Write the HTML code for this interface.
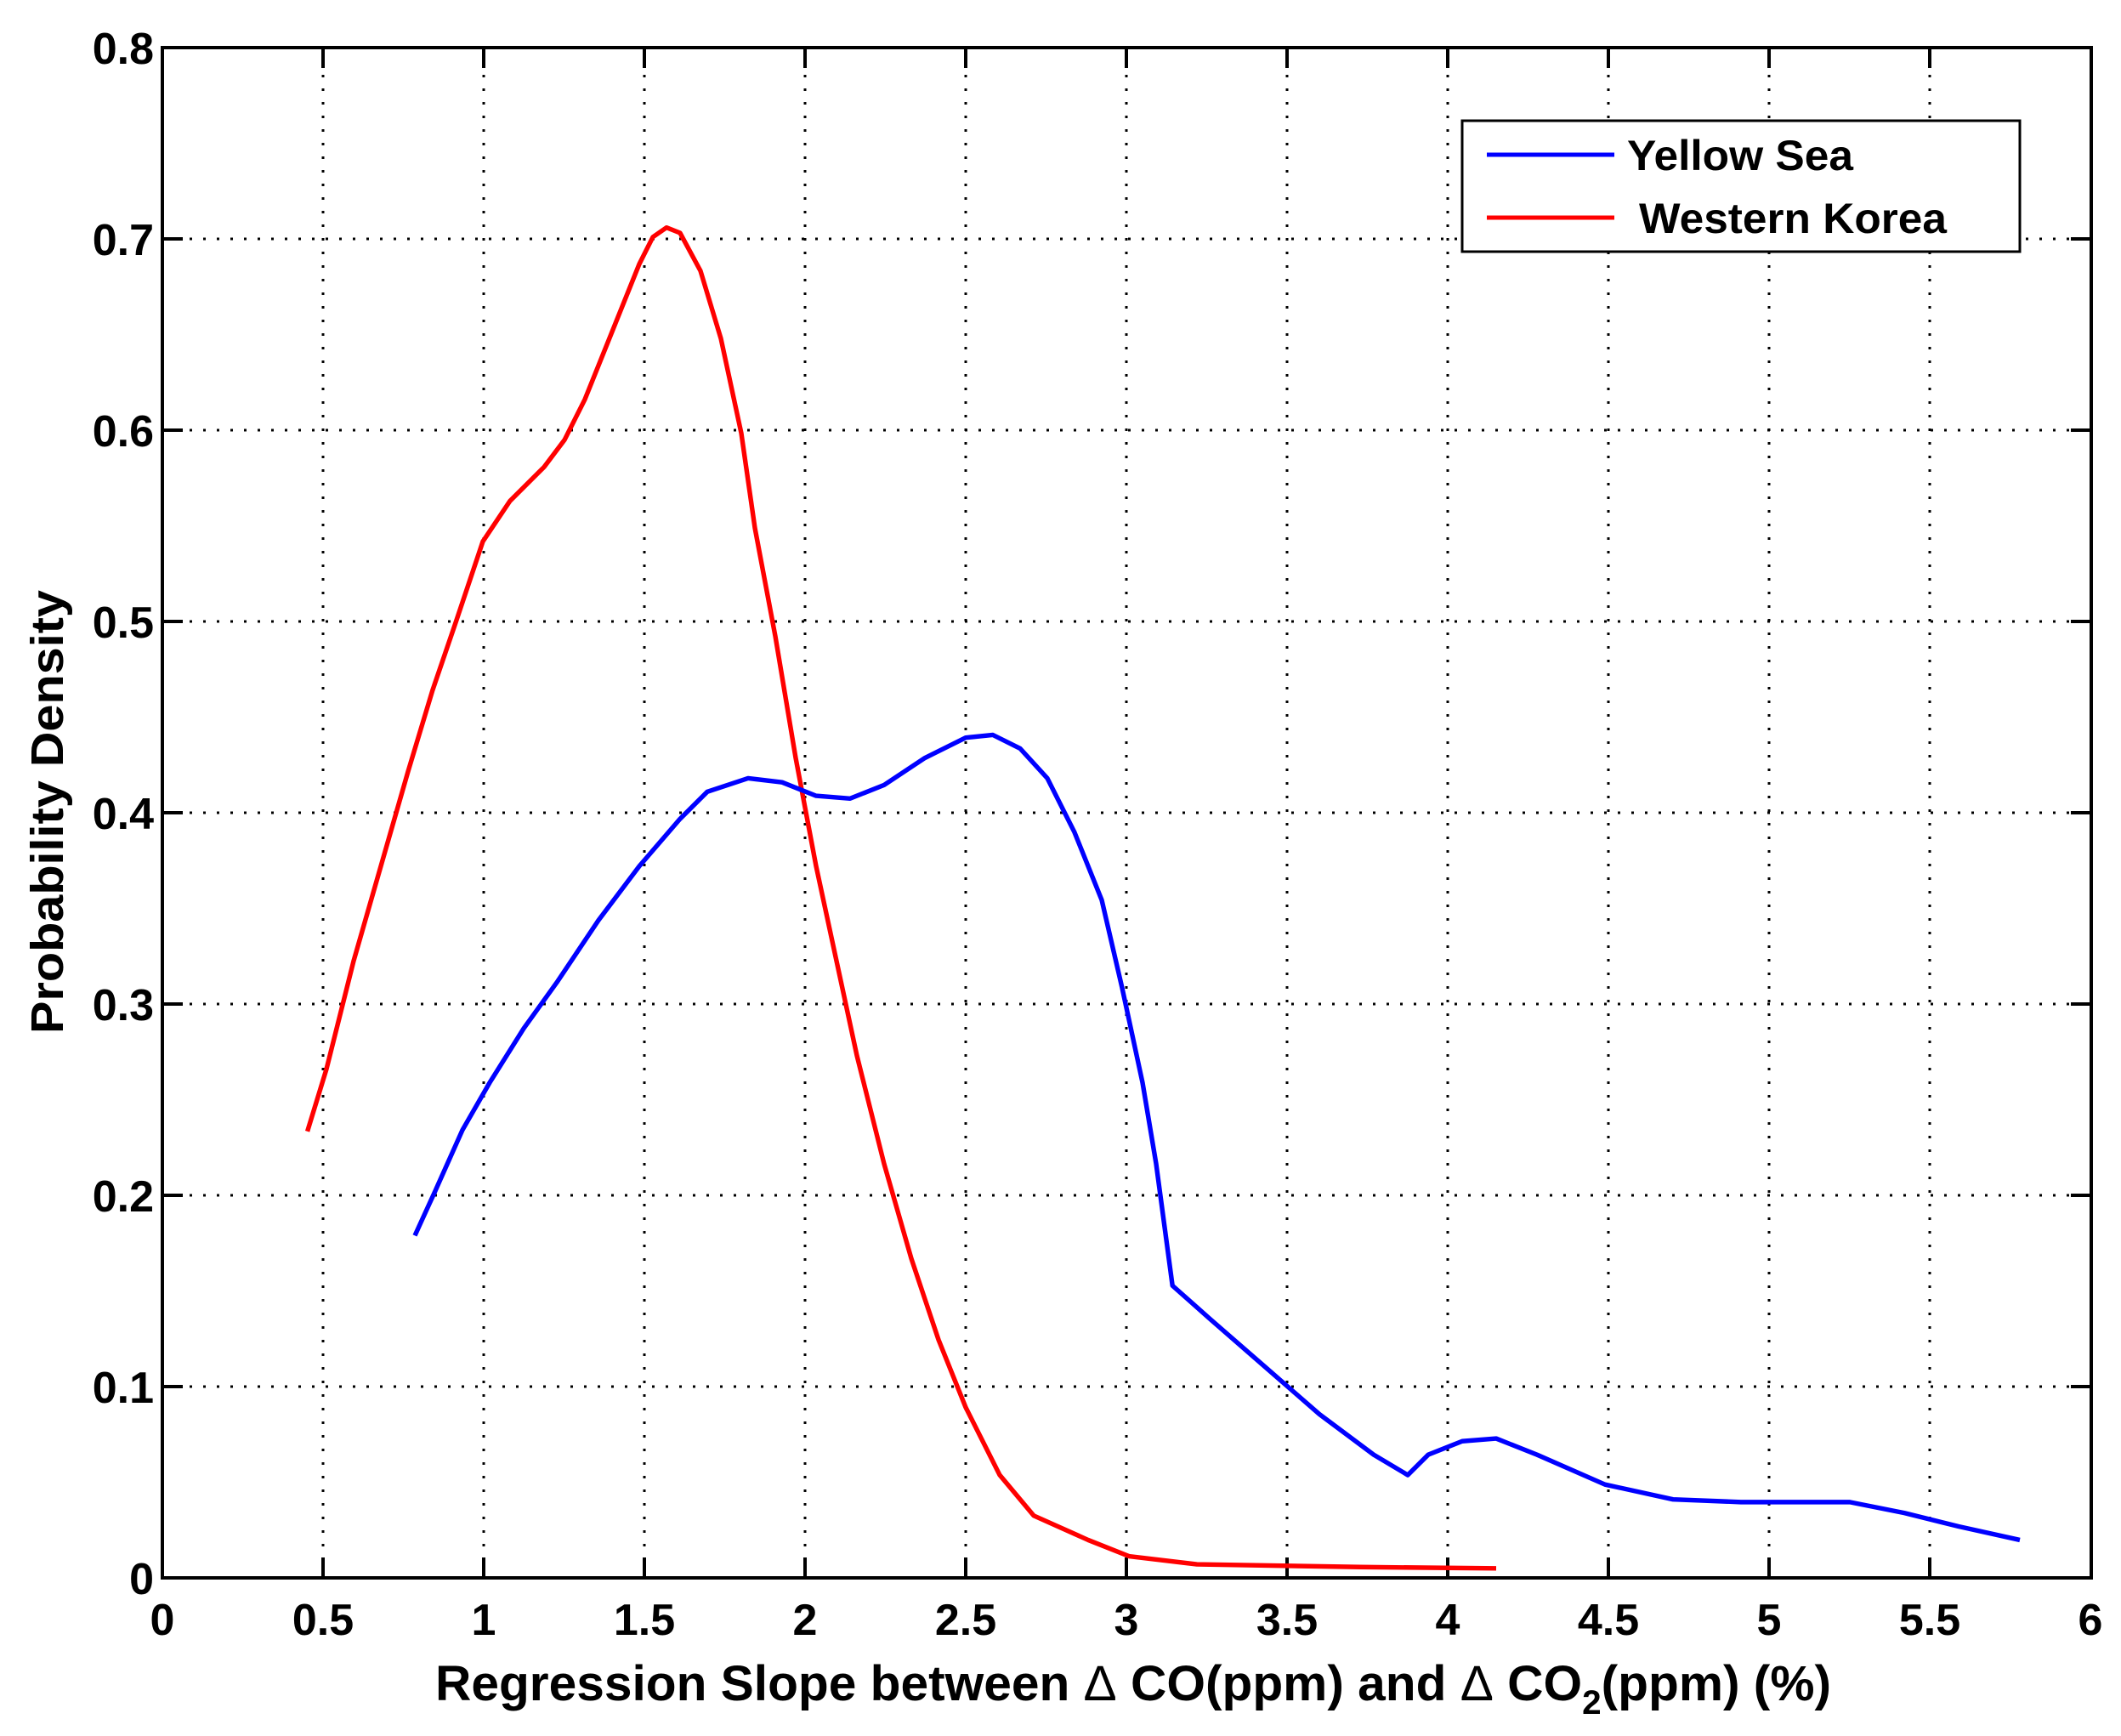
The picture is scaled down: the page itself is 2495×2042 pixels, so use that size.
<!DOCTYPE html>
<html><head><meta charset="utf-8"><style>html,body{margin:0;padding:0;background:#fff}svg{display:block}</style></head>
<body>
<svg width="2495" height="2042" viewBox="0 0 2495 2042" xmlns="http://www.w3.org/2000/svg" font-family="Liberation Sans, Arial, sans-serif">
<rect width="2495" height="2042" fill="#fff"/>
<g stroke="#000" stroke-width="3" stroke-dasharray="3 13">
<line x1="380" y1="56" x2="380" y2="1856"/><line x1="569" y1="56" x2="569" y2="1856"/><line x1="758" y1="56" x2="758" y2="1856"/><line x1="947" y1="56" x2="947" y2="1856"/><line x1="1136" y1="56" x2="1136" y2="1856"/><line x1="1325" y1="56" x2="1325" y2="1856"/><line x1="1514" y1="56" x2="1514" y2="1856"/><line x1="1703" y1="56" x2="1703" y2="1856"/><line x1="1892" y1="56" x2="1892" y2="1856"/><line x1="2081" y1="56" x2="2081" y2="1856"/><line x1="2270" y1="56" x2="2270" y2="1856"/>
<line x1="191" y1="281" x2="2460" y2="281"/><line x1="191" y1="506" x2="2460" y2="506"/><line x1="191" y1="731" x2="2460" y2="731"/><line x1="191" y1="956" x2="2460" y2="956"/><line x1="191" y1="1181" x2="2460" y2="1181"/><line x1="191" y1="1406" x2="2460" y2="1406"/><line x1="191" y1="1631" x2="2460" y2="1631"/>
</g>
<g stroke="#000" stroke-width="4">
<path d="M380 1856v-24M569 1856v-24M758 1856v-24M947 1856v-24M1136 1856v-24M1325 1856v-24M1514 1856v-24M1703 1856v-24M1892 1856v-24M2081 1856v-24M2270 1856v-24M380 56v24M569 56v24M758 56v24M947 56v24M1136 56v24M1325 56v24M1514 56v24M1703 56v24M1892 56v24M2081 56v24M2270 56v24"/>
<path d="M191 281h24M191 506h24M191 731h24M191 956h24M191 1181h24M191 1406h24M191 1631h24M2460 281h-24M2460 506h-24M2460 731h-24M2460 956h-24M2460 1181h-24M2460 1406h-24M2460 1631h-24"/>
<rect x="191" y="56" width="2269" height="1800" fill="none"/>
</g>
<g transform="matrix(1.6,0,0,1.5915,0,0.3)" fill="none" stroke-width="3.4" stroke-linejoin="round">
<polyline stroke="#f00" points="226,836 240,790 260,710 280,640 300,570 318,510 335,460 355,400 375,370 400,345 415,325 430,295 450,245 470,195 480,175 490,168 500,172 515,200 530,250 545,320 555,390 570,470 585,560 600,640 615,710 630,780 650,860 670,930 690,990 710,1040 735,1090 760,1120 800,1138 830,1150 880,1156 1000,1158 1100,1159"/>
<polyline stroke="#00f" points="305,913 320,880 340,835 360,800 385,760 410,725 440,680 470,640 500,605 520,585 550,575 575,578 600,588 625,590 650,580 680,560 710,545 730,543 750,553 770,575 790,615 810,665 825,730 840,800 850,860 862,950 890,975 930,1010 970,1045 1010,1075 1035,1090 1050,1075 1075,1065 1100,1063 1130,1075 1180,1097 1230,1108 1280,1110 1360,1110 1400,1118 1440,1128 1485,1138"/>
</g>
<g font-size="52" font-weight="bold" fill="#000" text-anchor="end">
<text x="181" y="75">0.8</text><text x="181" y="300">0.7</text><text x="181" y="525">0.6</text><text x="181" y="750">0.5</text><text x="181" y="975">0.4</text><text x="181" y="1200">0.3</text><text x="181" y="1425">0.2</text><text x="181" y="1650">0.1</text><text x="181" y="1875">0</text>
</g>
<g font-size="52" font-weight="bold" fill="#000" text-anchor="middle">
<text x="191" y="1923">0</text><text x="380" y="1923">0.5</text><text x="569" y="1923">1</text><text x="758" y="1923">1.5</text><text x="947" y="1923">2</text><text x="1136" y="1923">2.5</text><text x="1325" y="1923">3</text><text x="1514" y="1923">3.5</text><text x="1703" y="1923">4</text><text x="1892" y="1923">4.5</text><text x="2081" y="1923">5</text><text x="2270" y="1923">5.5</text><text x="2459" y="1923">6</text>
</g>
<text x="512" y="2000" font-size="58" font-weight="bold" textLength="1642" lengthAdjust="spacingAndGlyphs">Regression Slope between <tspan font-weight="normal">Δ</tspan> CO(ppm) and <tspan font-weight="normal">Δ</tspan> CO<tspan font-size="40" dy="16">2</tspan><tspan dy="-16">(ppm) (%)</tspan></text>
<text transform="translate(74,1216) rotate(-90)" font-size="54" font-weight="bold" textLength="522" lengthAdjust="spacingAndGlyphs">Probability Density</text>
<rect x="1720" y="142" width="656" height="154" fill="#fff" stroke="#000" stroke-width="3"/>
<line x1="1749" y1="182" x2="1899" y2="182" stroke="#00f" stroke-width="5"/>
<line x1="1749" y1="256" x2="1899" y2="256" stroke="#f00" stroke-width="5"/>
<text x="1914" y="200" font-size="50" font-weight="bold" textLength="266" lengthAdjust="spacingAndGlyphs">Yellow Sea</text>
<text x="1928" y="274" font-size="50" font-weight="bold" textLength="362" lengthAdjust="spacingAndGlyphs">Western Korea</text>
</svg>
</body></html>
